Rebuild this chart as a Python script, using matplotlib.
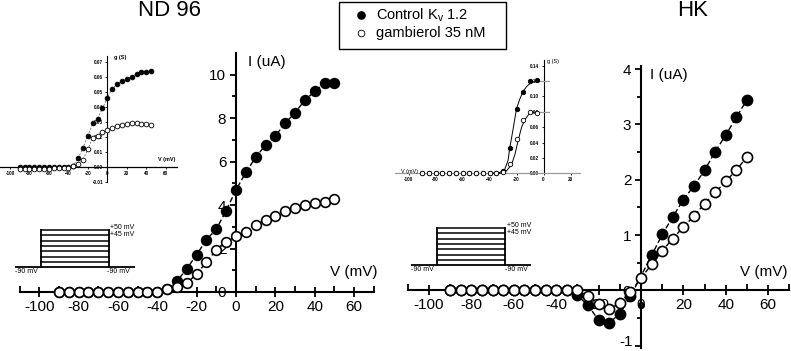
import matplotlib
matplotlib.use("Agg")
import matplotlib.pyplot as plt
from matplotlib.patches import Rectangle
from matplotlib.lines import Line2D

plt.rcParams["font.family"] = ["Liberation Sans", "DejaVu Sans"]
plt.rcParams["axes.unicode_minus"] = False
plt.rcParams["mathtext.fontset"] = "custom"
plt.rcParams["mathtext.rm"] = "Liberation Sans"

W, H = 791, 351

# ---- ND 96 current-voltage (uA) ----
nd_v = [-90, -85, -80, -75, -70, -65, -60, -55, -50, -45, -40, -35, -30, -25, -20,
        -15, -10, -5, 0, 5, 10, 15, 20, 25, 30, 35, 40, 45, 50]
nd_ctrl = [0.0, 0.0, 0.0, 0.0, 0.0, 0.0, 0.0, 0.0, 0.0, 0.0, 0.0, 0.15, 0.5, 1.07, 1.72,
           2.41, 2.89, 3.75, 4.7, 5.5, 6.2, 6.76, 7.19, 7.76, 8.26, 8.82, 9.23, 9.62, 9.62]
nd_gamb = [0.0, 0.0, 0.0, 0.0, 0.0, 0.0, 0.0, 0.0, 0.0, 0.0, 0.0, 0.15, 0.25, 0.4, 0.83,
           1.38, 1.94, 2.29, 2.58, 2.78, 3.09, 3.33, 3.5, 3.75, 3.88, 4.01, 4.1, 4.15, 4.27]

# ---- HK current-voltage (uA) ----
hk_v = nd_v
hk_ctrl_v = [-90, -85, -80, -75, -70, -65, -60, -55, -50, -45, -40, -35, -30, -25, -20,
             -15, -10, -5, 5, 10, 15, 20, 25, 30, 35, 40, 45, 50]
hk_ctrl = [0.0, 0.0, 0.0, 0.0, 0.0, 0.0, 0.0, 0.0, 0.0, 0.0, 0.0, 0.0, -0.09, -0.27, -0.54,
           -0.59, -0.42, -0.11, 0.63, 1.01, 1.33, 1.64, 1.89, 2.17, 2.51, 2.81, 3.13, 3.45]
hk_ctrl_0mv = -0.27
hk_gamb = [0.0, 0.0, 0.0, 0.0, 0.0, 0.0, 0.0, 0.0, 0.0, 0.0, 0.0, 0.0, 0.0, -0.1, -0.25,
           -0.34, -0.23, -0.03, 0.22, 0.47, 0.72, 0.93, 1.15, 1.34, 1.57, 1.77, 1.97, 2.18, 2.41]
hk_yticks = [-1, 0, 1, 2, 3, 4]

# ---- ND 96 conductance inset (S) ----
gnd_v = [-90, -85, -80, -75, -70, -65, -60, -55, -50, -45, -40, -35, -30, -25, -20,
         -15, -10, -5, 0, 5, 10, 15, 20, 25, 30, 35, 40, 45]
gnd_ctrl = [0.0, 0.0, 0.0, 0.0, 0.0, 0.0, 0.0, 0.0, 0.0, 0.0, 0.0, 0.001, 0.006, 0.013,
            0.021, 0.029, 0.032, 0.039, 0.046, 0.052, 0.055, 0.057, 0.0585, 0.060,
            0.062, 0.063, 0.0634, 0.0638]
gnd_gamb = [-0.001, -0.001, -0.001, -0.001, -0.001, -0.001, -0.001, -0.0008, -0.0007,
            -0.0005, -0.0003, 0.0005, 0.002, 0.005, 0.012, 0.0195, 0.021, 0.0236, 0.0247,
            0.0263, 0.0274, 0.0283, 0.0287, 0.0296, 0.0291, 0.0287, 0.0285, 0.028]

# ---- HK conductance inset (S) ----
ghk_v = [-90, -85, -80, -75, -70, -65, -60, -55, -50, -45, -40, -35, -30, -25, -20,
         -15, -10, -5]
ghk_ctrl = [0.0, 0.0, 0.0, 0.0, 0.0, 0.0, 0.0, 0.0, 0.0, 0.0, 0.0, 0.0, 0.003, 0.033,
            0.084, 0.106, 0.1196, 0.121]
ghk_gamb = [0.0, 0.0, 0.0, 0.0, 0.0, 0.0, 0.0, 0.0, 0.0, 0.0, 0.0, 0.0, 0.0015, 0.012,
            0.044, 0.070, 0.080, 0.078]
fit_ctrl_v = [-40, -37.5, -32.5, -28.75, -26.25, -25, -22.5, -20, -17.5, -15, -12.5, -10, -7.5, -5]
fit_ctrl_g = [0.0, 0.0, 0.001, 0.005, 0.017, 0.033, 0.058, 0.084, 0.097, 0.107, 0.113, 0.117, 0.119, 0.12]
fit_gamb_v = [-40, -32.5, -27.5, -23.75, -21.25, -18.75, -16.25, -13.75, -11.25, -8.75, -5]
fit_gamb_g = [0.0, 0.0, 0.003, 0.011, 0.024, 0.043, 0.060, 0.070, 0.076, 0.079, 0.08]
gmax_levels = [0.12, 0.08]

# ---- voltage protocol ----
step_levels = [-90, -70, -50, -30, -10, 10, 30, 50]
hold_mv = -90


def px_box(x0, x1, y_top, y_bot):
    return [x0 / W, 1 - y_bot / H, (x1 - x0) / W, (y_bot - y_top) / H]


def iv_axes(fig, box, xlim, ylim, ybounds, yticks, yminor):
    ax = fig.add_axes(box)
    ax.patch.set_visible(False)
    ax.set_xlim(*xlim)
    ax.set_ylim(*ylim)
    ax.spines[["top", "right"]].set_visible(False)
    ax.spines["left"].set_position(("data", 0))
    ax.spines["bottom"].set_position(("data", 0))
    ax.spines["left"].set_bounds(*ybounds)
    ax.spines["bottom"].set_bounds(-110, 70)
    for s in ("left", "bottom"):
        ax.spines[s].set_linewidth(1.5)
    ax.set_xticks(range(-100, 61, 20))
    ax.set_xticks(range(-110, 71, 20), minor=True)
    ax.set_yticks(yticks)
    ax.set_yticks(yminor, minor=True)
    ax.tick_params(axis="x", which="major", direction="inout", length=7, width=1.3,
                   labelsize=11, pad=2)
    ax.tick_params(axis="x", which="minor", direction="in", length=4, width=1.3)
    ax.tick_params(axis="y", which="major", direction="out", length=4, width=1.3,
                   labelsize=11, pad=3)
    ax.tick_params(axis="y", which="minor", direction="out", length=3, width=1.3)
    return ax


def iv_curve(ax, v, i, filled, ms=7):
    ax.plot(v, i, ls=(0, (4, 2)), lw=1.0, color="black", marker="o", ms=ms,
            mfc="black" if filled else "white", mec="black", mew=1.2, zorder=3)


def protocol(fig, box, label_t):
    ax = fig.add_axes(box)
    ax.set_xlim(0, 100)
    ax.set_ylim(-119, 69)
    ax.axis("off")
    t_on, t_off = 22, 78
    ax.plot([0, 100], [hold_mv, hold_mv], color="black", lw=1.3)
    for lvl in step_levels[1:]:
        ax.plot([t_on, t_off], [lvl, lvl], color="black", lw=1.1)
    for t in (t_on, t_off):
        ax.plot([t, t], [hold_mv, step_levels[-1]], color="black", lw=1.3)
    kw = dict(fontsize=5, ha="left", va="center")
    ax.text(label_t, 61, "+50 mV", **kw)
    ax.text(label_t, 34, "+45 mV", **kw)
    ax.text(0, -107, "-90 mV", **kw)
    ax.text(label_t - 2, -107, "-90 mV", **kw)


def g_inset(fig, box, xlim, ylim, yticks, ybounds, xcolor):
    ax = fig.add_axes(box)
    ax.patch.set_visible(False)
    ax.set_xlim(*xlim)
    ax.set_ylim(*ylim)
    ax.spines[["top", "right"]].set_visible(False)
    ax.spines["left"].set_position(("data", 0))
    ax.spines["bottom"].set_position(("data", 0))
    ax.spines["left"].set_bounds(*ybounds)
    ax.spines["left"].set_linewidth(0.8)
    ax.spines["bottom"].set_linewidth(0.9)
    ax.spines["bottom"].set_color(xcolor)
    ax.set_xticks(range(-100, int(xlim[1]) + 1, 20))
    ax.set_yticks(yticks)
    ax.set_yticklabels([f"{t:.2f}" for t in yticks])
    ax.tick_params(length=1.5, width=0.6, labelsize=3.3, pad=1.5)
    for lab in ax.get_xticklabels() + ax.get_yticklabels():
        lab.set_fontweight("bold")
    return ax


fig = plt.figure(figsize=(W / 100, H / 100), dpi=100)

# main ND 96 panel
ax1 = iv_axes(fig, px_box(19.6, 373.7, 53, 340), (-110, 70), (-2.21, 11.0),
              (0, 11.0), range(0, 11, 2), [1, 3, 5, 7, 9])
iv_curve(ax1, nd_v, nd_ctrl, True)
iv_curve(ax1, nd_v, nd_gamb, False)

# main HK panel; the "-1" label sits on the bottom edge, drawn separately below
ax2 = iv_axes(fig, px_box(407.8, 790.9, 60, 349), (-110, 70.7), (-1.061, 4.165),
              (-1.05, 4.05), hk_yticks, [-0.5, 0.5, 1.5, 2.5, 3.5])
ax2.set_yticklabels(["" if t == -1 else str(t) for t in hk_yticks])
iv_curve(ax2, hk_ctrl_v, hk_ctrl, True, ms=7.3)
ax2.plot([0], [hk_ctrl_0mv], "o", color="black", ms=4, zorder=3)
iv_curve(ax2, hk_v, hk_gamb, False, ms=7.3)

# ND 96 conductance inset
gi1 = g_inset(fig, px_box(0.3, 177.4, 56, 182.3), (-110, 72), (-0.01, 0.0737),
              [-0.01, 0.0, 0.01, 0.02, 0.03, 0.04, 0.05, 0.06, 0.07], (-0.01, 0.0737), "black")
for g, filled in ((gnd_ctrl, True), (gnd_gamb, False)):
    gi1.plot(gnd_v, g, ls=(0, (3, 2)), lw=0.5, color="#555555", marker="o", ms=3.4,
             mfc="black" if filled else "white", mec="black", mew=0.6, zorder=3)

# HK conductance inset
gi2 = g_inset(fig, px_box(395, 580, 60, 185), (-110, 27), (-0.0153, 0.1475),
              [0.0, 0.02, 0.04, 0.06, 0.08, 0.10, 0.12, 0.14], (0, 0.1475), "#9a9a9a")
for lvl in gmax_levels:
    gi2.plot([-10, 4], [lvl, lvl], color="#9a9a9a", lw=0.9, zorder=2.6)
gi2.plot(fit_ctrl_v, fit_ctrl_g, color="black", lw=0.7, zorder=3)
gi2.plot(fit_gamb_v, fit_gamb_g, color="black", lw=0.7, zorder=3)
gi2.plot(ghk_v, ghk_ctrl, "o", ms=3.2, mfc="black", mec="black", mew=0.6, zorder=4)
gi2.plot(ghk_v, ghk_gamb, "o", ms=3.2, mfc="white", mec="black", mew=0.6, zorder=4)

# voltage protocols
protocol(fig, px_box(15, 135, 225, 275), 79)
protocol(fig, px_box(411, 531, 223, 273), 80)

# overlay in pixel coordinates for labels and legend
ov = fig.add_axes([0, 0, 1, 1])
ov.set_xlim(0, W)
ov.set_ylim(H, 0)
ov.axis("off")
ov.text(170, 10, "ND 96", fontsize=16, ha="center", va="center")
ov.text(693, 10, "HK", fontsize=16, ha="center", va="center")
ov.text(248, 62, "I (uA)", fontsize=11, ha="left", va="center")
ov.text(650, 75, "I (uA)", fontsize=11, ha="left", va="center")
ov.text(378, 272, "V (mV)", fontsize=11, ha="right", va="center")
ov.text(788, 272, "V (mV)", fontsize=11, ha="right", va="center")
ov.text(633, 342, "-1", fontsize=11, ha="right", va="center")
ov.text(114, 57, "g (S)", fontsize=4, fontweight="bold", ha="left", va="center")
ov.text(176, 160, "V (mV)", fontsize=4, fontweight="bold", ha="right", va="center")
ov.text(547, 61, "g (S)", fontsize=4, ha="left", va="center")
ov.text(401, 171, "V (mV)", fontsize=4, ha="left", va="center")

ov.add_patch(Rectangle((338.5, 2), 167, 47, fill=True, facecolor="white",
                       edgecolor="black", lw=1.0))
ov.add_line(Line2D([361], [15], marker="o", ms=5.2, mfc="black", mec="black"))
ov.add_line(Line2D([361], [33], marker="o", ms=4.8, mfc="white", mec="black", mew=0.6))
ov.text(376, 15, r"Control K$_\mathregular{v}$ 1.2", fontsize=10.5, ha="left", va="center")
ov.text(376, 33, "gambierol 35 nM", fontsize=10.5, ha="left", va="center")

fig.savefig("out.png", dpi=100, facecolor="white")
